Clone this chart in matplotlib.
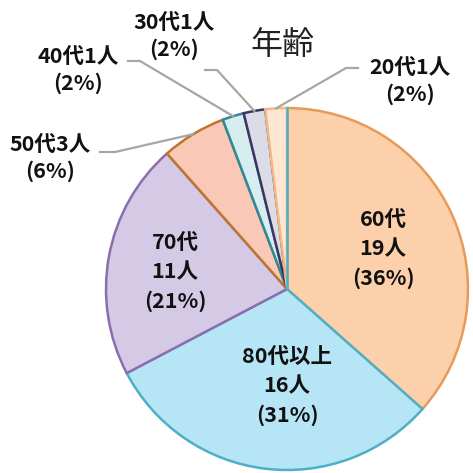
import matplotlib
matplotlib.use("Agg")
import matplotlib.pyplot as plt
import numpy as np

plt.rcParams['font.family'] = ['Noto Sans CJK JP', 'DejaVu Sans']

categories = ["60代", "80代以上", "70代", "50代", "40代", "30代", "20代"]
counts = [19, 16, 11, 3, 1, 1, 1]
percents = [36, 31, 21, 6, 2, 2, 2]
fills = ["#FBD0AA", "#B6E6F6", "#D5CAE6", "#F9C8B6", "#D8EDF0", "#DCDCE8", "#FDE6D2"]
edges = ["#E89A58", "#4FAFC4", "#8C6DAE", "#C0742E", "#2E8A98", "#3E3660", "#F0B886"]

W = 473
fig = plt.figure(figsize=(4.73, 4.73), dpi=100)
ax = fig.add_axes([0, 0, 1, 1])

cx, cy, R = 287, W - 289, 181
wedges, _ = ax.pie(counts, startangle=90, counterclock=False, colors=fills,
                   center=(cx, cy), radius=R, frame=True,
                   wedgeprops=dict(linewidth=1.8))
for w, ec in zip(wedges, edges):
    w.set_edgecolor(ec)
ax.set_xlim(0, W)
ax.set_ylim(0, W)
ax.set_aspect('equal')
ax.axis('off')

def Y(y):
    return W - y

# teal divider between the last small slice and 60代
ax.plot([cx, cx], [cy, cy + R], color="#4FAFC4", linewidth=1.8, zorder=3)

# inside labels
inside = {0: (383, 249), 1: (287, 386), 2: (175, 272)}
for i, (x, y) in inside.items():
    name = categories[i]
    lab = f"{name}\n{counts[i]}人\n({percents[i]}%)"
    ax.text(x, Y(y), lab, ha='center', va='center', fontsize=15.5,
            fontweight='bold', linespacing=1.5, color='#111111')

tot = sum(counts)
cum = np.cumsum([0] + counts)
def mid_point(i, r=1.0):
    ang = 90 - (cum[i] + counts[i] / 2) / tot * 360
    a = np.deg2rad(ang)
    return cx + R * r * np.cos(a), cy + R * r * np.sin(a)

outside = {
    3: ((50, 158), [(100, 152), (115, 152)]),
    4: ((78, 70), [(128, 61), (140, 61)]),
    5: ((174, 36), [(205, 70), (217, 70)]),
    6: ((410, 81), [(358, 68), (346, 68)]),
}
for i, ((tx, ty), pts) in outside.items():
    name = categories[i]
    lab = f"{name}{counts[i]}人\n({percents[i]}%)"
    ax.text(tx, Y(ty), lab, ha='center', va='center', fontsize=15.5,
            fontweight='bold', linespacing=1.3, color='#111111')
    ex, ey = mid_point(i, 1.0)
    xs = [p[0] for p in pts] + [ex]
    ys = [Y(p[1]) for p in pts] + [ey]
    ax.plot(xs, ys, color='#A6A6A6', linewidth=1.6, zorder=5)

ax.text(282, Y(45), "年齢", ha='center', va='center', fontsize=23, color='#222222')

fig.savefig("out.png", dpi=100, facecolor='white')
